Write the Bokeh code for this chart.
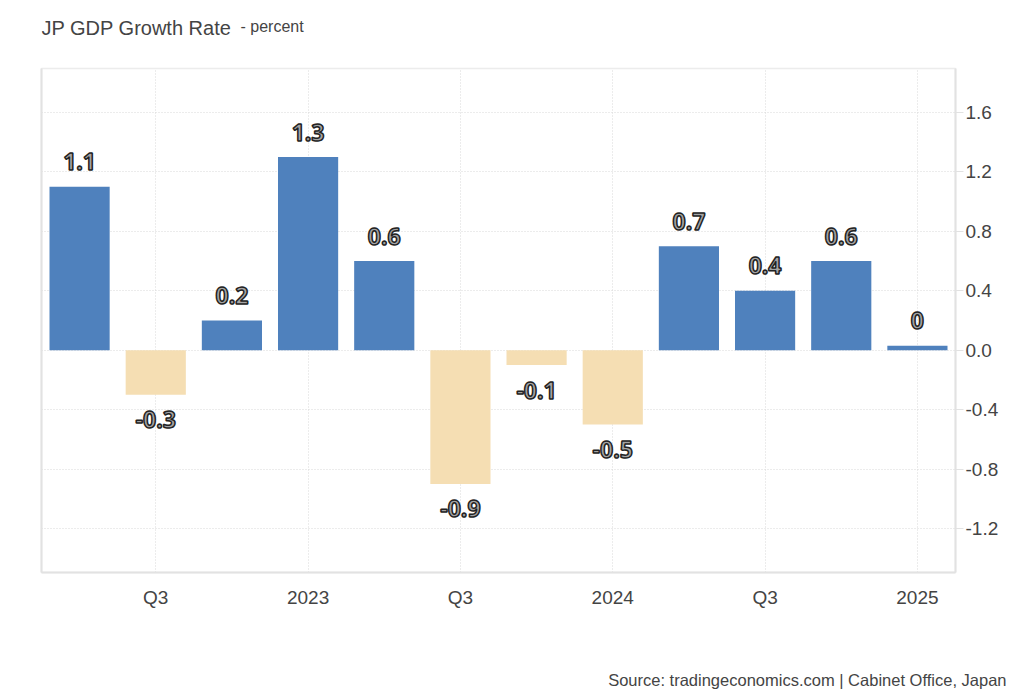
from bokeh.plotting import figure
from bokeh.layouts import column
from bokeh.models import ColumnDataSource, FixedTicker, LinearAxis, Range1d, Title
from bokeh.core.properties import value
from bokeh.embed import file_html
from bokeh.resources import INLINE

quarters = ["2022 Q2", "2022 Q3", "2022 Q4", "2023 Q1", "2023 Q2", "2023 Q3",
            "2023 Q4", "2024 Q1", "2024 Q2", "2024 Q3", "2024 Q4", "2025 Q1"]
growth = [1.1, -0.3, 0.2, 1.3, 0.6, -0.9, -0.1, -0.5, 0.7, 0.4, 0.6, 0.03]
tick_index = [1, 3, 5, 7, 9, 11]
tick_labels = ["Q3", "2023", "Q3", "2024", "Q3", "2025"]
y_ticks = [-1.2, -0.8, -0.4, 0.0, 0.4, 0.8, 1.2, 1.6]
title_text = "JP GDP Growth Rate"
unit_text = "- percent"
source_text = "Source: tradingeconomics.com | Cabinet Office, Japan"

POS = "#4F81BD"
NEG = "#F5DEB3"
W = 1012

def fmt(v):
    r = round(v, 1)
    return "0" if r == 0 else f"{r:.1f}"

def blank(fig):
    fig.axis.visible = False
    fig.grid.visible = False
    fig.outline_line_color = None

# ---- header (title); its frame is aligned with the chart frame (41..955 px) ----
head = figure(width=W, height=40, output_backend="svg", toolbar_location=None,
              x_range=Range1d(41, 955), y_range=Range1d(0, 40),
              min_border_left=41, min_border_right=57, min_border_top=0, min_border_bottom=0)
blank(head)
head.text(x=[41], y=[13], text=[title_text], text_baseline="middle", text_align="left",
          text_font=value("Liberation Sans"), text_font_size="20px", text_color="#444444")
head.text(x=[240], y=[14], text=[unit_text], text_baseline="middle", text_align="left",
          text_font=value("Liberation Sans"), text_font_size="16px", text_color="#444444")

# ---- main chart ----
xs = list(range(len(growth)))
src = ColumnDataSource(dict(
    x=xs,
    top=growth,
    color=[POS if v >= 0 else NEG for v in growth],
    label=[fmt(v) for v in growth],
    off=[-25 if v >= 0 else 25 for v in growth],
))

p = figure(width=W, height=582, output_backend="svg", toolbar_location=None,
           x_range=Range1d(-0.5, len(growth) - 0.5), y_range=Range1d(-1.496, 1.896),
           y_axis_location="right", min_border_left=41, min_border_right=57,
           min_border_top=28, min_border_bottom=50)

p.vbar(x="x", top="top", bottom=0, width=0.79, fill_color="color", line_color=None,
       source=src)
p.text(x="x", y="top", text="label", y_offset="off", source=src,
       text_align="center", text_baseline="middle",
       text_font=value("Open Sans"), text_font_style="bold", text_font_size="23px",
       text_color="#a4a4a4", text_outline_color="#222222")

xa = p.xaxis[0]
xa.ticker = FixedTicker(ticks=tick_index)
xa.major_label_overrides = {i: t for i, t in zip(tick_index, tick_labels)}
xa.major_tick_line_color = None
xa.minor_tick_line_color = None
xa.axis_line_color = "#e2e2e2"
xa.axis_line_width = 2
xa.major_label_text_font = "Liberation Sans"
xa.major_label_text_font_size = "19px"
xa.major_label_text_color = "#444444"
xa.major_label_standoff = 8

ya = p.yaxis[0]
ya.ticker = FixedTicker(ticks=y_ticks)
ya.major_label_overrides = {t: f"{t:.1f}" for t in y_ticks}
ya.minor_tick_line_color = None
ya.major_tick_in = 0
ya.major_tick_out = 8
ya.major_tick_line_color = "#e2e2e2"
ya.axis_line_color = "#e2e2e2"
ya.axis_line_width = 2
ya.major_label_text_font = "Liberation Sans"
ya.major_label_text_font_size = "19px"
ya.major_label_text_color = "#444444"
ya.major_label_standoff = 2

left = LinearAxis(ticker=FixedTicker(ticks=[]), axis_line_color="#e2e2e2", axis_line_width=2,
                  major_tick_line_color=None, minor_tick_line_color=None,
                  major_label_text_font_size="0px")
p.add_layout(left, "left")

p.xgrid.ticker = FixedTicker(ticks=tick_index)
p.xgrid.grid_line_color = "#d9d9d9"
p.xgrid.grid_line_dash = "1 2"
p.ygrid.ticker = FixedTicker(ticks=y_ticks)
p.ygrid.grid_line_color = "#d9d9d9"
p.ygrid.grid_line_dash = "1 2"

p.outline_line_color = "#ececec"
p.outline_line_dash = "solid"
p.outline_line_width = 1.5

# ---- footer (source line) ----
foot = figure(width=W, height=70, output_backend="svg", toolbar_location=None,
              x_range=Range1d(0, 1), y_range=Range1d(0, 1),
              min_border_left=41, min_border_right=57, min_border_top=0, min_border_bottom=24)
blank(foot)
foot.add_layout(Title(text=source_text, align="right",
                      text_font="Liberation Sans", text_font_size="16.5px", text_font_style="normal",
                      text_color="#444444", offset=-51, standoff=0), "below")

layout = column(head, p, foot, spacing=0)
open("out.html", "w").write(file_html(layout, INLINE))
